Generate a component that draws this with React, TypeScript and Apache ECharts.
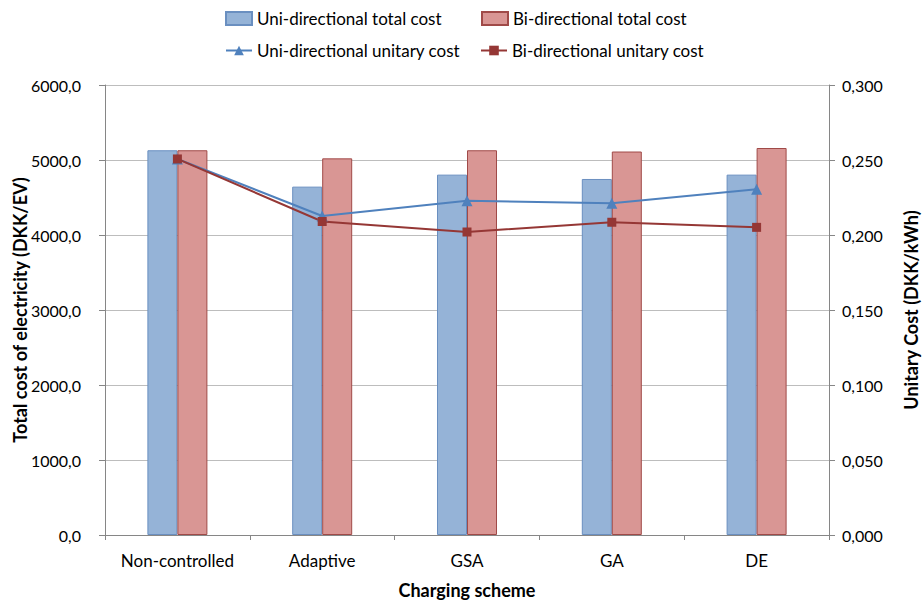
import React, { useEffect, useRef } from "react";
import * as echarts from "echarts";

const categories = ["Non-controlled", "Adaptive", "GSA", "GA", "DE"];
const uniTotal = [5130, 4645, 4805, 4747, 4805];
const biTotal = [5130, 5022, 5130, 5113, 5160];
const uniUnitary = [0.2507, 0.2127, 0.2229, 0.2211, 0.2305];
const biUnitary = [0.2507, 0.209, 0.202, 0.2085, 0.2051];

const FONT = "Lato";

export default function App() {
  const ref = useRef<HTMLDivElement>(null);
  useEffect(() => {
    const chart = echarts.init(ref.current!, null, { renderer: "svg" });
    const axisLine = { show: true, lineStyle: { color: "#868686", width: 1 } };
    const legendText = { fontFamily: FONT, fontSize: 17, color: "#000" };
    const titleStyle = { fontSize: 18, fontWeight: "bold", color: "#000", fontFamily: FONT };
    chart.setOption({
      animation: false,
      backgroundColor: "#ffffff",
      textStyle: { fontFamily: FONT },
      grid: { left: 105, right: 95, top: 85, bottom: 65, outerBoundsMode: "none", containLabel: false },
      legend: [
        {
          top: 5,
          left: 220,
          itemWidth: 26,
          itemHeight: 13,
          icon: "rect",
          textStyle: legendText,
          data: ["Uni-directional total cost"],
        },
        {
          top: 5,
          left: 476,
          itemWidth: 26,
          itemHeight: 13,
          icon: "rect",
          textStyle: legendText,
          data: ["Bi-directional total cost"],
        },
        {
          top: 37,
          left: 220,
          itemWidth: 26,
          itemHeight: 12,
          textStyle: legendText,
          data: ["Uni-directional unitary cost"],
        },
        {
          top: 37,
          left: 475,
          itemWidth: 26,
          itemHeight: 12,
          textStyle: legendText,
          data: ["Bi-directional unitary cost"],
        },
      ],
      xAxis: {
        type: "category",
        data: categories,
        axisLine,
        axisTick: { show: true, length: 5, lineStyle: { color: "#868686" } },
        axisLabel: { fontSize: 17, color: "#000", margin: 17, fontFamily: FONT, interval: 0 },
        name: "Charging scheme",
        nameLocation: "middle",
        nameGap: 46,
        nameMoveOverlap: false,
        nameTextStyle: titleStyle,
      },
      yAxis: [
        {
          type: "value",
          min: 0,
          max: 6000,
          interval: 1000,
          axisLine,
          axisTick: { show: true, inside: false, length: 6, lineStyle: { color: "#868686" } },
          splitLine: { lineStyle: { color: "#bdbdbd" } },
          axisLabel: {
            fontSize: 16,
            color: "#000",
            margin: 24,
            fontFamily: FONT,
            formatter: (v: number) => v.toFixed(1).replace(".", ","),
          },
          name: "Total cost of electricity (DKK/EV)",
          nameLocation: "middle",
          nameGap: 76,
          nameMoveOverlap: false,
          nameTextStyle: titleStyle,
        },
        {
          type: "value",
          min: 0,
          max: 0.3,
          interval: 0.05,
          position: "right",
          axisLine,
          axisTick: { show: true, inside: false, length: 6, lineStyle: { color: "#868686" } },
          splitLine: { show: false },
          axisLabel: {
            fontSize: 16,
            color: "#000",
            margin: 13,
            fontFamily: FONT,
            formatter: (v: number) => v.toFixed(3).replace(".", ","),
          },
          name: "Unitary Cost (DKK/kWh)",
          nameLocation: "middle",
          nameGap: 73,
          nameRotate: 90,
          nameMoveOverlap: false,
          nameTextStyle: titleStyle,
        },
      ],
      series: [
        {
          name: "Uni-directional total cost",
          type: "bar",
          data: uniTotal,
          barWidth: 30,
          barGap: "0%",
          itemStyle: { color: "#95B3D7", borderColor: "#6a8fc0", borderWidth: 1 },
        },
        {
          name: "Bi-directional total cost",
          type: "bar",
          data: biTotal,
          barWidth: 30,
          barGap: "0%",
          itemStyle: { color: "#D99694", borderColor: "#a04a48", borderWidth: 1 },
        },
        {
          name: "Uni-directional unitary cost",
          type: "line",
          yAxisIndex: 1,
          data: uniUnitary,
          symbol: "triangle",
          symbolSize: 11,
          lineStyle: { color: "#4F81BD", width: 2 },
          itemStyle: { color: "#4F81BD" },
        },
        {
          name: "Bi-directional unitary cost",
          type: "line",
          yAxisIndex: 1,
          data: biUnitary,
          symbol: "rect",
          symbolSize: 9,
          lineStyle: { color: "#953735", width: 2 },
          itemStyle: { color: "#953735" },
        },
      ],
    });
    return () => chart.dispose();
  }, []);
  return (
    <div
      ref={ref}
      style={{ position: "absolute", left: 0, top: 0, width: 924, height: 600 }}
    />
  );
}
